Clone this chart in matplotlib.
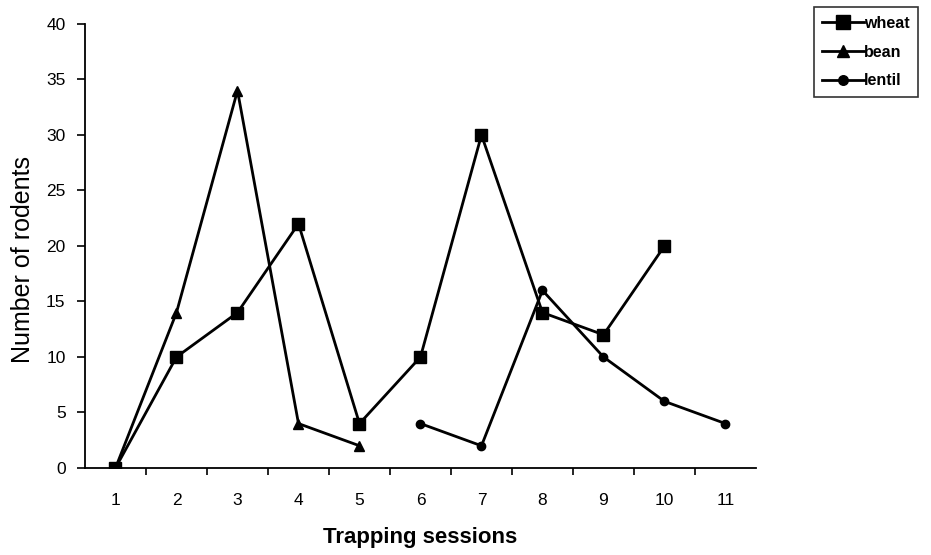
import numpy as np
import matplotlib.pyplot as plt
from matplotlib.ticker import FixedLocator, NullFormatter

plt.rcParams['font.family'] = ['Liberation Sans', 'DejaVu Sans']

sessions = [1, 2, 3, 4, 5, 6, 7, 8, 9, 10, 11]
wheat = [0, 10, 14, 22, 4, 10, 30, 14, 12, 20, np.nan]
bean = [0, 14, 34, 4, 2, np.nan, np.nan, np.nan, np.nan, np.nan, np.nan]
lentil = [np.nan, np.nan, np.nan, np.nan, np.nan, 4, 2, 16, 10, 6, 4]

fig = plt.figure(figsize=(9.31, 5.55), dpi=100)
ax = fig.add_axes([0.0913, 0.1568, 0.7207, 0.80])

ax.plot(sessions, wheat, color='black', lw=2, marker='s', ms=9, label='wheat')
ax.plot(sessions, bean, color='black', lw=2, marker='^', ms=7, label='bean')
ax.plot(sessions, lentil, color='black', lw=2, marker='o', ms=6, label='lentil')

ax.set_xlim(0.5, 11.5)
ax.set_ylim(0, 40)
ax.set_yticks(range(0, 41, 5))
ax.set_xticks(sessions)
ax.tick_params(axis='x', which='major', length=0, pad=18, labelsize=12.5)
ax.xaxis.set_minor_locator(FixedLocator(np.arange(1.5, 11.0, 1.0)))
ax.xaxis.set_minor_formatter(NullFormatter())
ax.tick_params(axis='x', which='minor', length=5, width=1.2, direction='out')
ax.tick_params(axis='y', length=6, width=1.2, direction='out', labelsize=12.5, pad=8)

for s in ['top', 'right']:
    ax.spines[s].set_visible(False)
for s in ['left', 'bottom']:
    ax.spines[s].set_linewidth(1.3)

ax.set_xlabel('Trapping sessions', fontsize=16, fontweight='bold', labelpad=14)
ax.set_ylabel('Number of rodents', fontsize=18, labelpad=8)
ax.yaxis.set_label_coords(-0.075, 0.47)

leg = fig.legend(loc='upper left', bbox_to_anchor=(0.874, 0.987), frameon=True,
                 fancybox=False, edgecolor='black', handlelength=2.6,
                 handletextpad=0.0, borderpad=0.55, labelspacing=0.85,
                 borderaxespad=0, markerscale=1.15,
                 prop={'weight': 'bold', 'size': 11.5})
leg.get_frame().set_linewidth(1.2)

fig.savefig('out.png', dpi=100)
